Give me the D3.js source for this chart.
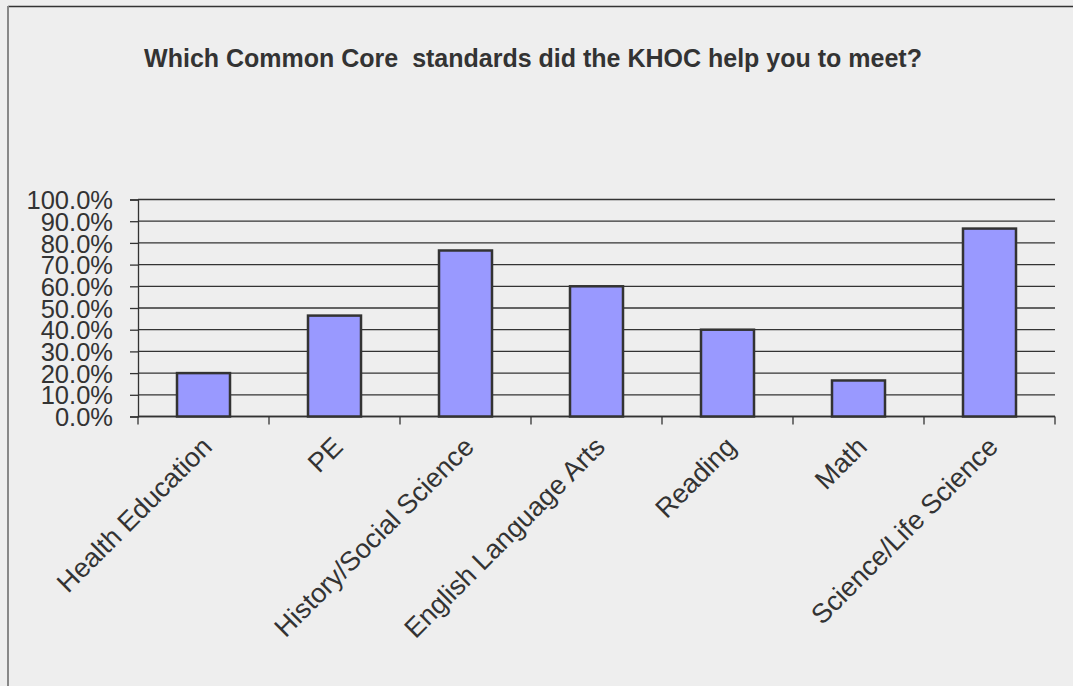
<!DOCTYPE html>
<html><head><meta charset="utf-8">
<script src="https://cdn.jsdelivr.net/npm/d3@7"></script>
<style>
html,body{margin:0;padding:0;background:#eeeeee;}
svg{display:block;}
text{font-family:"Liberation Sans",Arial,sans-serif;fill:#333;}
</style></head>
<body>
<svg id="chart" width="1073" height="686"></svg>
<script>
const categories = ["Health Education","PE","History/Social Science","English Language Arts","Reading","Math","Science/Life Science"];
const values = [0.20, 0.465, 0.765, 0.60, 0.40, 0.166, 0.866];
const yTicks = [0,0.1,0.2,0.3,0.4,0.5,0.6,0.7,0.8,0.9,1.0];
const title = "Which Common Core  standards did the KHOC help you to meet?";

const svg = d3.select("#chart");
const W = 1073, H = 686;
svg.append("rect").attr("width",W).attr("height",H).attr("fill","#eeeeee");
// frame
svg.append("line").attr("x1",8).attr("x2",W).attr("y1",6.5).attr("y2",6.5).attr("stroke","#333").attr("stroke-width",1.5);
svg.append("line").attr("x1",8).attr("x2",8).attr("y1",6).attr("y2",H).attr("stroke","#888").attr("stroke-width",2);

const m = {left:138, right:1055, top:199.5, bottom:416.5};
const x = d3.scaleBand().domain(categories).range([m.left,m.right]).paddingInner(0).paddingOuter(0);
const y = d3.scaleLinear().domain([0,1]).range([m.bottom,m.top]);

// gridlines
svg.append("g").selectAll("line").data(yTicks).join("line")
  .attr("x1",m.left).attr("x2",m.right)
  .attr("y1",d=>y(d)).attr("y2",d=>y(d))
  .attr("stroke","#333").attr("stroke-width",1.3);

// y axis
const yAxis = d3.axisLeft(y).tickValues(yTicks).tickFormat(d3.format(".1%")).tickSize(8).tickPadding(17);
const gy = svg.append("g").attr("transform",`translate(${m.left},0)`).call(yAxis);
gy.select(".domain").attr("stroke","#333").attr("stroke-width",1.3);
gy.selectAll(".tick line").attr("stroke","#333").attr("stroke-width",1.3);
gy.selectAll(".tick text").style("font-size","25.5px").attr("fill","#333").attr("dy","0.36em");

// x axis ticks
const bounds = categories.map(c=>x(c)).concat([m.right]);
svg.append("g").selectAll("line").data(bounds).join("line")
  .attr("x1",d=>d).attr("x2",d=>d).attr("y1",m.bottom).attr("y2",m.bottom+8)
  .attr("stroke","#333").attr("stroke-width",1.3);
svg.append("line").attr("x1",m.left).attr("x2",m.right).attr("y1",m.bottom).attr("y2",m.bottom)
  .attr("stroke","#333").attr("stroke-width",1.3);

// bars
const bw = 53;
svg.append("g").selectAll("rect").data(values).join("rect")
  .attr("x",(d,i)=>x(categories[i])+x.bandwidth()/2-bw/2)
  .attr("y",d=>y(d))
  .attr("width",bw)
  .attr("height",d=>m.bottom-y(d))
  .attr("fill","#9999ff").attr("stroke","#333").attr("stroke-width",2.5);

// x labels
svg.append("g").selectAll("text").data(categories).join("text")
  .attr("transform",d=>`translate(${x(d)+x.bandwidth()/2+10},${m.bottom+32}) rotate(-45)`)
  .attr("text-anchor","end")
  .style("font-size","27px")
  .text(d=>d);

// title
svg.append("text").attr("x",533).attr("y",67).attr("text-anchor","middle")
  .attr("xml:space","preserve").style("white-space","pre")
  .style("font-size","25px").style("font-weight","bold").attr("fill","#333")
  .text(title);
</script>
</body></html>
